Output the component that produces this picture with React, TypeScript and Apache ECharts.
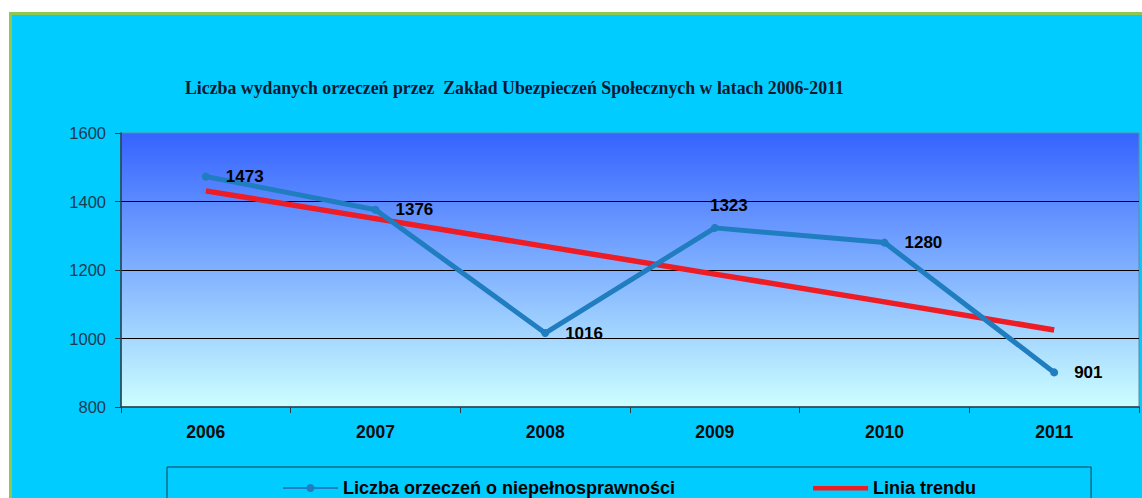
import React, { useEffect, useRef } from "react";
import * as echarts from "echarts";

const categories = ["2006", "2007", "2008", "2009", "2010", "2011"];
const values = [1473, 1376, 1016, 1323, 1280, 901];
const trend = [1431, 1350, 1269, 1188, 1107, 1025];
const seriesName = "Liczba orzeczeń o niepełnosprawności";
const trendName = "Linia trendu";
const titleText =
  "Liczba wydanych orzeczeń przez  Zakład Ubezpieczeń Społecznych w latach 2006-2011";
const yMin = 800;
const yMax = 1600;
const yStep = 200;

export default function App() {
  const ref = useRef<HTMLDivElement>(null);
  useEffect(() => {
    if (!ref.current) return;
    const chart = echarts.init(ref.current, null, { renderer: "svg" });
    chart.setOption({
      animation: false,
      backgroundColor: "transparent",
      title: {
        text: titleText,
        left: 185,
        top: 79,
        padding: 0,
        textStyle: {
          fontFamily: "Liberation Serif",
          fontWeight: "bold",
          fontSize: 17.8,
          color: "#0b1830",
        },
      },
      grid: {
        left: 121,
        right: 3,
        top: 133,
        bottom: 91,
        show: true,
        borderColor: "#5f8aa3",
        borderWidth: 1,
        backgroundColor: new echarts.graphic.LinearGradient(0, 0, 0, 1, [
          { offset: 0, color: "#3563FF" },
          { offset: 1, color: "#CCFFFF" },
        ]),
      },
      xAxis: {
        type: "category",
        data: categories,
        boundaryGap: true,
        axisLine: { lineStyle: { color: "#2b3d4a", width: 1.5 } },
        axisTick: { show: true, length: 6, lineStyle: { color: "#2b3d4a" } },
        axisLabel: {
          color: "#0a0a0a",
          fontFamily: "Liberation Sans",
          fontWeight: "bold",
          fontSize: 17.5,
          margin: 16,
        },
      },
      yAxis: {
        type: "value",
        min: yMin,
        max: yMax,
        interval: yStep,
        axisLine: { show: true, lineStyle: { color: "#2b3d4a", width: 1.5 } },
        axisTick: { show: true, length: 6, lineStyle: { color: "#2b3d4a" } },
        axisLabel: {
          color: "#1d3a52",
          fontFamily: "Liberation Sans",
          fontSize: 16.5,
          margin: 15,
          formatter: (v: number) => String(v),
        },
        splitLine: {
          show: true,
          showMaxLine: false,
          showMinLine: false,
          lineStyle: { color: "#000", width: 1 },
        },
      },
      legend: {
        left: 167,
        top: 467,
        padding: [12, 115, 14, 115],
        itemGap: 138,
        itemWidth: 55,
        itemHeight: 10,
        borderColor: "#1b3a4c",
        borderWidth: 1,
        textStyle: {
          fontFamily: "Liberation Sans",
          fontWeight: "bold",
          fontSize: 18,
          color: "#000",
        },
        data: [
          seriesName,
          { name: trendName, icon: "path://M0,3 H55 V7.5 H0 Z M0,0 H0.01 V10 H0 Z" },
        ],
      },
      series: [
        {
          name: seriesName,
          type: "line",
          data: values.map((v, i) =>
            i === 3
              ? { value: v, label: { position: "top", distance: 10, offset: [14, 0] } }
              : v
          ),
          color: "#1F7DC0",
          lineStyle: { width: 5, color: "#1F7DC0" },
          symbol: "circle",
          symbolSize: 8,
          itemStyle: { color: "#1F7DC0" },
          z: 3,
          label: {
            show: true,
            position: "right",
            distance: 16,
            fontFamily: "Liberation Sans",
            fontWeight: "bold",
            fontSize: 17,
            color: "#000",
          },
        },
        {
          name: trendName,
          type: "line",
          data: trend,
          color: "#EE1C25",
          lineStyle: { width: 5.5, color: "#EE1C25" },
          symbol: "none",
          showSymbol: false,
          z: 2,
        },
      ],
    });
    return () => chart.dispose();
  }, []);

  return (
    <div
      style={{
        position: "fixed",
        left: 0,
        top: 0,
        width: 1142,
        height: 498,
        background: "#ffffff",
        overflow: "hidden",
      }}
    >
      <div
        style={{
          position: "absolute",
          left: 9,
          top: 12,
          width: 1200,
          height: 600,
          background: "#00CCFF",
          borderTop: "3px solid #8DC852",
          borderLeft: "3px solid #8DC852",
          boxSizing: "border-box",
        }}
      />
      <div
        ref={ref}
        style={{ position: "absolute", left: 0, top: 0, width: 1142, height: 498 }}
      />
    </div>
  );
}
